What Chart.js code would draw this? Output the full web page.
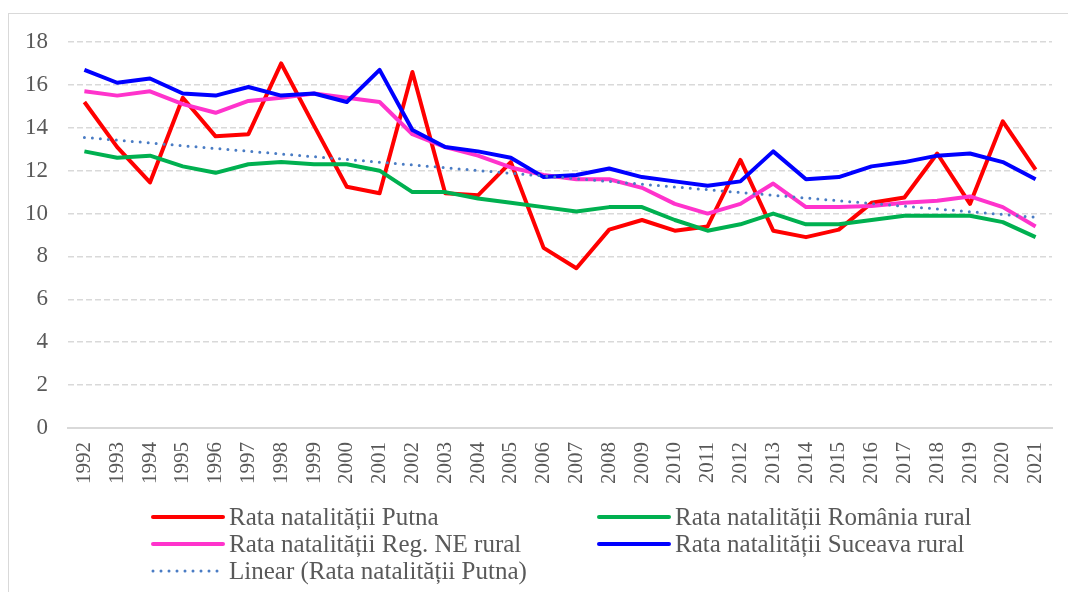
<!DOCTYPE html>
<html>
<head>
<meta charset="utf-8">
<script src="https://cdn.jsdelivr.net/npm/chart.js@4.4.1/dist/chart.umd.min.js"></script>
<style>
  html, body { margin: 0; padding: 0; background: #fff; }
  #wrap { position: relative; width: 1068px; height: 592px; overflow: hidden; }
  #frame { position: absolute; left: 8px; top: 13px; width: 1100px; height: 620px; border: 1px solid #d9d9d9; }
  canvas { position: absolute; left: 0; top: 0; }
</style>
</head>
<body>
<div id="wrap">
  <div id="frame"></div>
  <canvas id="myChart" width="1068" height="592"></canvas>
</div>
<script>
var years = ['1992','1993','1994','1995','1996','1997','1998','1999','2000','2001',
  '2002','2003','2004','2005','2006','2007','2008','2009','2010','2011',
  '2012','2013','2014','2015','2016','2017','2018','2019','2020','2021'];

var putna = [15.2,13.1,11.45,15.4,13.6,13.7,17.0,14.1,11.25,10.95,
  16.6,10.95,10.85,12.4,8.4,7.45,9.25,9.7,9.2,9.4,
  12.5,9.2,8.9,9.25,10.5,10.75,12.8,10.45,14.3,12.05];
var romaniaRural = [12.9,12.6,12.7,12.2,11.9,12.3,12.4,12.3,12.3,12.0,
  11.0,11.0,10.7,10.5,10.3,10.1,10.3,10.3,9.7,9.2,
  9.5,10.0,9.5,9.5,9.7,9.9,9.9,9.9,9.6,8.9];
var neRural = [15.7,15.5,15.7,15.1,14.7,15.25,15.4,15.6,15.4,15.2,
  13.7,13.1,12.7,12.15,11.8,11.6,11.6,11.2,10.45,10.0,
  10.45,11.4,10.3,10.3,10.35,10.5,10.6,10.8,10.3,9.4];
var sucevaRural = [16.7,16.1,16.3,15.6,15.5,15.9,15.5,15.6,15.2,16.7,
  13.9,13.1,12.9,12.6,11.7,11.8,12.1,11.7,11.5,11.3,
  11.5,12.9,11.6,11.7,12.2,12.4,12.7,12.8,12.4,11.6];

var seriesNames = ['Rata natalității Putna','Rata natalității România rural',
  'Rata natalității Reg. NE rural','Rata natalității Suceava rural',
  'Linear (Rata natalității Putna)'];

// least squares trend of the Putna series (like the Excel trendline)
function linearTrend(arr) {
  var n = arr.length, sx = 0, sy = 0, sxy = 0, sxx = 0;
  for (var i = 0; i < n; i++) { sx += i; sy += arr[i]; sxy += i * arr[i]; sxx += i * i; }
  var b = (n * sxy - sx * sy) / (n * sxx - sx * sx);
  var a = (sy - b * sx) / n;
  return arr.map(function (v, i) { return a + b * i; });
}

var FONT = "'Liberation Serif', 'DejaVu Serif', serif";
var TXT = '#595959';

// two column legend, drawn by hand (Chart.js legend can't do a fixed grid)
var legendPlugin = {
  id: 'gridLegend',
  afterDraw: function (chart) {
    var ctx = chart.ctx;
    var ds = chart.data.datasets;
    var slots = [[153, 517], [599, 517], [153, 544], [599, 544], [153, 571]];
    ctx.save();
    ctx.font = '25px ' + FONT;
    ctx.textBaseline = 'middle';
    ctx.fillStyle = TXT;
    for (var i = 0; i < ds.length; i++) {
      var x = slots[i][0], y = slots[i][1];
      ctx.beginPath();
      ctx.strokeStyle = ds[i].borderColor;
      ctx.lineWidth = ds[i].borderWidth;
      ctx.lineCap = 'round';
      ctx.setLineDash(ds[i].borderDash || []);
      ctx.moveTo(x, y);
      ctx.lineTo(x + 70, y);
      ctx.stroke();
      ctx.setLineDash([]);
      ctx.fillText(ds[i].label, x + 76, y + 1);
    }
    ctx.restore();
  }
};

var ctx = document.getElementById('myChart');
var myChart = new Chart(ctx, {
  type: 'line',
  data: {
    labels: years,
    datasets: [
      { label: seriesNames[0], data: putna, borderColor: '#ff0000', borderWidth: 4, order: 4 },
      { label: seriesNames[1], data: romaniaRural, borderColor: '#00b050', borderWidth: 4, order: 3 },
      { label: seriesNames[2], data: neRural, borderColor: '#ff33cc', borderWidth: 4, order: 2 },
      { label: seriesNames[3], data: sucevaRural, borderColor: '#0000ff', borderWidth: 4, order: 1 },
      { label: seriesNames[4], data: linearTrend(putna), borderColor: '#4a7cc4', borderWidth: 3,
        borderDash: [0, 8], borderCapStyle: 'round', order: 0 }
    ]
  },
  options: {
    responsive: false,
    animation: false,
    maintainAspectRatio: false,
    elements: {
      point: { radius: 0 },
      line: { tension: 0, borderJoinStyle: 'round', fill: false }
    },
    layout: { padding: { left: 0, right: 16, top: 42, bottom: 100 } },
    plugins: {
      legend: { display: false },
      tooltip: { enabled: false }
    },
    scales: {
      x: {
        offset: true,
        grid: { display: false, drawTicks: false },
        border: { display: true, color: '#d9d9d9', width: 2 },
        ticks: {
          autoSkip: false, minRotation: 90, maxRotation: 90, padding: 14,
          color: TXT, font: { family: FONT, size: 21 }
        },
        afterFit: function (scale) {
          scale.height = 64;
          scale.paddingLeft = 0;
          scale.paddingRight = 0;
        }
      },
      y: {
        min: 0, max: 18,
        grid: { color: '#d9d9d9', lineWidth: 1.5, drawTicks: false },
        border: { display: false, dash: [6, 3] },
        ticks: {
          stepSize: 2, padding: 20,
          color: TXT, font: { family: FONT, size: 23 }
        },
        afterFit: function (scale) { scale.width = 68; }
      }
    }
  },
  plugins: [legendPlugin]
});
</script>
</body>
</html>
